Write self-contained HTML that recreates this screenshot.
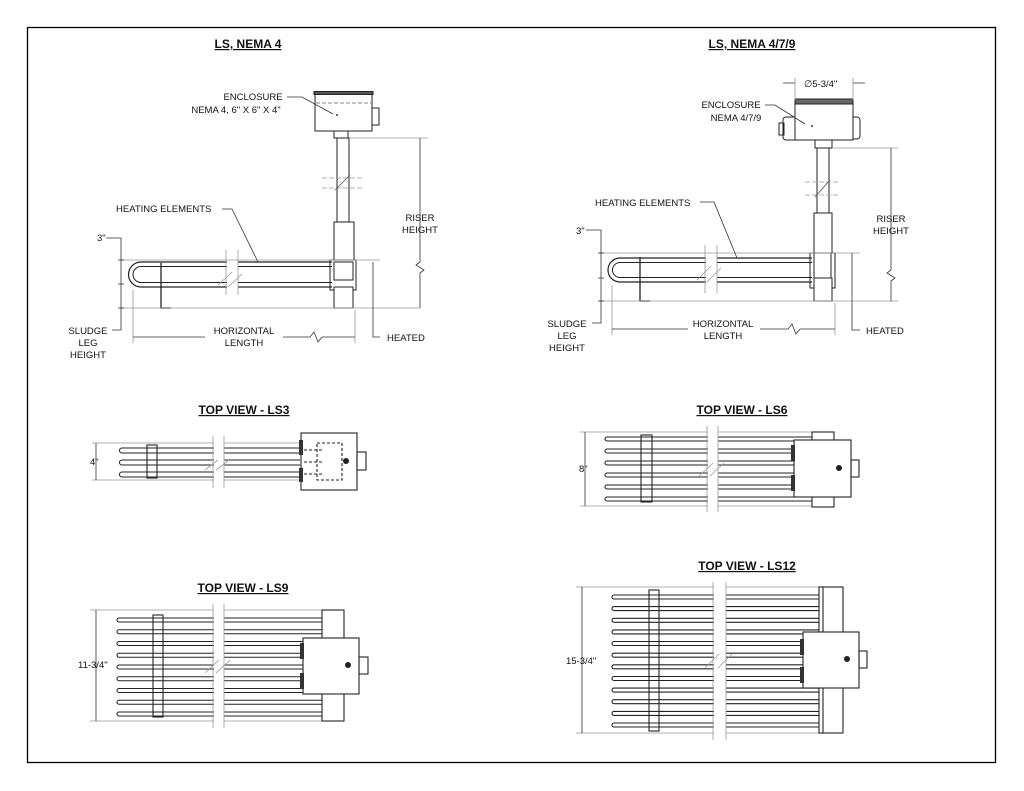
<!DOCTYPE html>
<html><head><meta charset="utf-8"><style>
html,body{margin:0;padding:0;background:#fff}
svg{display:block}
text{font-family:"Liberation Sans",Arial,sans-serif;font-size:9.5px;fill:#111}
.t{font-size:12px;font-weight:bold;text-anchor:middle;text-decoration:underline}
.m{text-anchor:middle}
</style></head><body>
<svg width="1024" height="791" viewBox="0 0 1024 791" xmlns="http://www.w3.org/2000/svg">
<rect x="27.5" y="27.5" width="968" height="735" fill="none" stroke="#000" stroke-width="1.3"/>

<!-- ============ LEFT SIDE VIEW ============ -->
<text class="t" x="248" y="48">LS, NEMA 4</text>
<g fill="none" stroke="#222" stroke-width="1">
<!-- enclosure -->
<rect x="315" y="93" width="57" height="38" fill="#fff"/>
<rect x="314" y="91.5" width="59" height="3" fill="#555"/>
<line x1="316" y1="103" x2="371" y2="103" stroke="#888" stroke-dasharray="4,2"/>
<rect x="372" y="108" width="7" height="17"/>
<rect x="334" y="131" width="14" height="7"/>
<rect x="337" y="138" width="12" height="84"/>
<rect x="334" y="222" width="20" height="40" fill="#fff"/>
<rect x="330" y="260" width="26" height="30" fill="#fff"/>
<rect x="334" y="262" width="19" height="18" fill="#fff"/>
<rect x="334" y="287" width="19" height="21" fill="#fff"/>
<!-- tubes -->
<path d="M332 262 H141 A7.5 7.5 0 0 0 141 287 H332" stroke-width="1.2"/>
<path d="M332 266.5 H141 A3 3 0 0 0 141 282.5 H332"/>
<path d="M161 263 V308 H171" stroke-width="1.3"/>
</g>
<rect x="227" y="250" width="11" height="45" fill="#fff"/>
<g stroke="#999" stroke-width="0.8" fill="none">
<line x1="226" y1="250" x2="226" y2="295"/><line x1="238" y1="250" x2="238" y2="295"/>
<line x1="218" y1="285" x2="232" y2="272"/><line x1="228" y1="287" x2="242" y2="274"/>
<line x1="322" y1="178" x2="362" y2="178" stroke-dasharray="5,2"/><line x1="322" y1="188" x2="362" y2="188" stroke-dasharray="5,2"/>
<line x1="335" y1="190" x2="350" y2="175" stroke="#555"/>
<line x1="120" y1="260" x2="380" y2="260"/><line x1="120" y1="308" x2="420" y2="308"/>
<line x1="350" y1="138" x2="428" y2="138"/>
<line x1="133" y1="290" x2="133" y2="343"/><line x1="355" y1="310" x2="355" y2="343"/>
</g>
<g stroke="#333" stroke-width="0.8" fill="none">
<path d="M106 238 H121 V330 H112"/>
<line x1="118" y1="260" x2="124" y2="260"/><line x1="118" y1="284" x2="124" y2="284"/><line x1="118" y1="308" x2="124" y2="308"/>
<path d="M420 138 V262 L416 265 L424 270 L420 273 V308"/>
<path d="M373 262 V337 H380"/>
<path d="M133 337 H205 M283 337 H310 L314 332 L318 342 L322 337 H355"/>
<path d="M222 209 H232 L258 262"/>
<path d="M287 97 H302 L333 114"/>
</g>
<circle cx="337" cy="115" r="1" fill="#333"/>
<text class="m" x="253" y="100">ENCLOSURE</text>
<text class="m" x="236" y="113">NEMA 4, 6" X 6" X 4"</text>
<text x="116" y="212">HEATING ELEMENTS</text>
<text x="97" y="241">3"</text>
<text class="m" x="420" y="221">RISER</text><text class="m" x="420" y="233">HEIGHT</text>
<text class="m" x="244" y="334">HORIZONTAL</text><text class="m" x="244" y="346">LENGTH</text>
<text class="m" x="88" y="334">SLUDGE</text><text class="m" x="88" y="346">LEG</text><text class="m" x="88" y="358">HEIGHT</text>
<text x="387" y="341">HEATED</text>

<!-- ============ RIGHT SIDE VIEW ============ -->
<text class="t" x="752" y="48">LS, NEMA 4/7/9</text>
<g fill="none" stroke="#222" stroke-width="1">
<rect x="783" y="117" width="14" height="23" rx="3" fill="#fff"/>
<rect x="779" y="123" width="5" height="12"/>
<rect x="851" y="117" width="9" height="22" rx="3" fill="#fff"/>
<rect x="795" y="102" width="58" height="38" fill="#fff"/>
<rect x="795" y="99" width="58" height="5" fill="#666"/>
<rect x="815" y="140" width="17" height="8"/>
<rect x="817" y="148" width="12" height="65"/>
<rect x="814" y="213" width="18" height="40" fill="#fff"/>
<rect x="810" y="253" width="25" height="35" fill="#fff"/>
<rect x="814" y="253" width="17" height="25" fill="#fff"/>
<rect x="814" y="278" width="18" height="23" fill="#fff"/>
<path d="M812 258 H620 A7.5 7.5 0 0 0 620 282 H812" stroke-width="1.2"/>
<path d="M812 262.5 H620 A3 3 0 0 0 620 277.5 H812"/>
<path d="M640 257 V301 H650" stroke-width="1.3"/>
</g>
<rect x="706" y="245" width="11" height="48" fill="#fff"/>
<g stroke="#999" stroke-width="0.8" fill="none">
<line x1="705" y1="245" x2="705" y2="293"/><line x1="717" y1="245" x2="717" y2="293"/>
<line x1="697" y1="280" x2="711" y2="266"/><line x1="707" y1="282" x2="721" y2="268"/>
<line x1="805" y1="182" x2="840" y2="182" stroke-dasharray="5,2"/><line x1="805" y1="195" x2="840" y2="195" stroke-dasharray="5,2"/>
<line x1="815" y1="197" x2="830" y2="180" stroke="#555"/>
<line x1="598" y1="253" x2="860" y2="253"/><line x1="598" y1="301" x2="898" y2="301"/>
<line x1="832" y1="148" x2="898" y2="148"/>
<line x1="612" y1="285" x2="612" y2="335"/><line x1="835" y1="303" x2="835" y2="335"/>
<line x1="795" y1="78" x2="795" y2="100"/><line x1="853" y1="78" x2="853" y2="100"/>
</g>
<g stroke="#333" stroke-width="0.8" fill="none">
<path d="M586 230 H601 V323 H592"/>
<line x1="598" y1="253" x2="604" y2="253"/><line x1="598" y1="278" x2="604" y2="278"/><line x1="598" y1="301" x2="604" y2="301"/>
<path d="M891 148 V270 L887 273 L895 278 L891 281 V301"/>
<path d="M852 253 V330 H860"/>
<path d="M612 329 H688 M760 329 H788 L792 324 L796 334 L800 329 H835"/>
<path d="M700 202 H714 L737 258"/>
<path d="M765 105 H775 L805 124"/>
<path d="M783 83 H795 M853 83 H865"/>
</g>
<circle cx="812" cy="126" r="1" fill="#333"/>
<text class="m" x="731" y="108">ENCLOSURE</text>
<text class="m" x="736" y="121">NEMA 4/7/9</text>
<text x="595" y="206">HEATING ELEMENTS</text>
<text x="576" y="234">3"</text>
<text class="m" x="891" y="222">RISER</text><text class="m" x="891" y="234">HEIGHT</text>
<text class="m" x="723" y="327">HORIZONTAL</text><text class="m" x="723" y="339">LENGTH</text>
<text class="m" x="567" y="327">SLUDGE</text><text class="m" x="567" y="339">LEG</text><text class="m" x="567" y="351">HEIGHT</text>
<text x="866" y="334">HEATED</text>
<text x="804" y="87">∅5-3/4"</text>

<!-- ============ TOP VIEW LS3 ============ -->
<text class="t" x="244" y="414">TOP VIEW - LS3</text>
<g stroke="#999" stroke-width="0.8" fill="none">
<line x1="92" y1="443" x2="300" y2="443"/><line x1="92" y1="480" x2="300" y2="480"/>
</g>
<g fill="none" stroke="#222" stroke-width="1.1">
<path d="M300 448 H122 A2.5 2.5 0 0 0 122 453 H300"/>
<path d="M300 460 H122 A2.5 2.5 0 0 0 122 465 H300"/>
<path d="M300 472 H122 A2.5 2.5 0 0 0 122 477 H300"/>
<rect x="147" y="445" width="10" height="33" fill="none"/>
<rect x="301" y="433" width="56" height="57" fill="#fff"/>
<rect x="317" y="443" width="25" height="37" stroke-dasharray="3,2"/>
<rect x="357" y="452" width="9" height="18"/>
</g>
<g stroke="#222" stroke-dasharray="3,2"><line x1="304" y1="450" x2="322" y2="450"/><line x1="304" y1="462" x2="322" y2="462"/><line x1="304" y1="474" x2="322" y2="474"/></g>
<rect x="299" y="440" width="4" height="15" fill="#333"/><rect x="299" y="468" width="4" height="14" fill="#333"/>
<circle cx="346" cy="461" r="3" fill="#222"/>
<rect x="214" y="436" width="10" height="50" fill="#fff"/>
<g stroke="#999" stroke-width="0.8"><line x1="213" y1="436" x2="213" y2="488"/><line x1="224" y1="436" x2="224" y2="488"/>
<line x1="205" y1="470" x2="218" y2="460"/><line x1="216" y1="470" x2="229" y2="460"/></g>
<path d="M96 443 V480" stroke="#333" stroke-width="0.8"/>
<text x="90" y="465">4"</text>

<!-- ============ TOP VIEW LS6 ============ -->
<text class="t" x="742" y="414">TOP VIEW - LS6</text>
<g stroke="#999" stroke-width="0.8" fill="none">
<line x1="580" y1="432" x2="812" y2="432"/><line x1="580" y1="506" x2="812" y2="506"/>
</g>
<g fill="none" stroke="#222" stroke-width="1.1">
<path d="M812 437 H607 A2 2 0 0 0 607 441 H812"/>
<path d="M794 449 H607 A2 2 0 0 0 607 453 H794"/>
<path d="M794 461 H607 A2 2 0 0 0 607 465 H794"/>
<path d="M794 473 H607 A2 2 0 0 0 607 477 H794"/>
<path d="M794 485 H607 A2 2 0 0 0 607 489 H794"/>
<path d="M812 497 H607 A2 2 0 0 0 607 501 H812"/>
<rect x="641" y="435" width="11" height="67"/>
<rect x="812" y="432" width="22" height="75" fill="#fff"/>
<rect x="794" y="440" width="57" height="57" fill="#fff"/>
<rect x="851" y="460" width="8" height="17"/>
</g>
<rect x="791" y="445" width="4" height="16" fill="#333"/><rect x="791" y="475" width="4" height="16" fill="#333"/>
<circle cx="839" cy="468" r="3" fill="#222"/>
<rect x="708" y="426" width="10" height="86" fill="#fff"/>
<g stroke="#999" stroke-width="0.8"><line x1="707" y1="426" x2="707" y2="512"/><line x1="718" y1="426" x2="718" y2="512"/>
<line x1="699" y1="476" x2="713" y2="463"/><line x1="710" y1="476" x2="724" y2="463"/></g>
<path d="M585 432 V506" stroke="#333" stroke-width="0.8"/>
<text x="579" y="472">8"</text>

<!-- ============ TOP VIEW LS9 ============ -->
<text class="t" x="243" y="592">TOP VIEW - LS9</text>
<g stroke="#999" stroke-width="0.8" fill="none">
<line x1="90" y1="610" x2="322" y2="610"/><line x1="90" y1="721" x2="322" y2="721"/>
</g>
<g fill="none" stroke="#222" stroke-width="1.1">
<path d="M322 618 H119 A2 2 0 0 0 119 622 H322"/>
<path d="M322 629.75 H119 A2 2 0 0 0 119 633.75 H322"/>
<path d="M303 641.5 H119 A2 2 0 0 0 119 645.5 H303"/>
<path d="M303 653.25 H119 A2 2 0 0 0 119 657.25 H303"/>
<path d="M303 665 H119 A2 2 0 0 0 119 669 H303"/>
<path d="M303 676.75 H119 A2 2 0 0 0 119 680.75 H303"/>
<path d="M303 688.5 H119 A2 2 0 0 0 119 692.5 H303"/>
<path d="M322 700.25 H119 A2 2 0 0 0 119 704.25 H322"/>
<path d="M322 712 H119 A2 2 0 0 0 119 716 H322"/>
<rect x="153" y="615" width="10" height="102"/>
<rect x="322" y="610" width="22" height="111" fill="#fff"/>
<rect x="303" y="638" width="56" height="56" fill="#fff"/>
<rect x="359" y="657" width="9" height="17"/>
</g>
<rect x="300" y="643" width="4" height="16" fill="#333"/><rect x="300" y="673" width="4" height="16" fill="#333"/>
<circle cx="348" cy="665" r="3" fill="#222"/>
<rect x="214" y="604" width="10" height="124" fill="#fff"/>
<g stroke="#999" stroke-width="0.8"><line x1="213" y1="604" x2="213" y2="728"/><line x1="224" y1="604" x2="224" y2="728"/>
<line x1="205" y1="673" x2="219" y2="660"/><line x1="216" y1="673" x2="230" y2="660"/></g>
<path d="M96 610 V721" stroke="#333" stroke-width="0.8"/>
<text x="78" y="668">11-3/4"</text>

<!-- ============ TOP VIEW LS12 ============ -->
<text class="t" x="747" y="570">TOP VIEW - LS12</text>
<g stroke="#999" stroke-width="0.8" fill="none">
<line x1="576" y1="587" x2="819" y2="587"/><line x1="576" y1="733" x2="819" y2="733"/>
</g>
<g fill="none" stroke="#222" stroke-width="1.1">
<path d="M819 595 H614 A2 2 0 0 0 614 599 H819"/>
<path d="M819 606.6 H614 A2 2 0 0 0 614 610.6 H819"/>
<path d="M819 618.3 H614 A2 2 0 0 0 614 622.3 H819"/>
<path d="M819 629.9 H614 A2 2 0 0 0 614 633.9 H819"/>
<path d="M803 641.5 H614 A2 2 0 0 0 614 645.5 H803"/>
<path d="M803 653.2 H614 A2 2 0 0 0 614 657.2 H803"/>
<path d="M803 664.8 H614 A2 2 0 0 0 614 668.8 H803"/>
<path d="M803 676.5 H614 A2 2 0 0 0 614 680.5 H803"/>
<path d="M819 688.1 H614 A2 2 0 0 0 614 692.1 H819"/>
<path d="M819 699.7 H614 A2 2 0 0 0 614 703.7 H819"/>
<path d="M819 711.4 H614 A2 2 0 0 0 614 715.4 H819"/>
<path d="M819 723 H614 A2 2 0 0 0 614 727 H819"/>
<rect x="649" y="590" width="10" height="141"/>
<rect x="819" y="587" width="24" height="146" fill="#fff"/>
<line x1="823" y1="587" x2="823" y2="733"/>
<rect x="803" y="632" width="56" height="56" fill="#fff"/>
<rect x="859" y="651" width="8" height="17"/>
</g>
<rect x="800" y="639" width="4" height="16" fill="#333"/><rect x="800" y="667" width="4" height="16" fill="#333"/>
<circle cx="847" cy="659" r="3" fill="#222"/>
<rect x="714" y="582" width="12" height="158" fill="#fff"/>
<g stroke="#999" stroke-width="0.8"><line x1="713" y1="582" x2="713" y2="740"/><line x1="726" y1="582" x2="726" y2="740"/>
<line x1="705" y1="668" x2="719" y2="654"/><line x1="718" y1="668" x2="732" y2="654"/></g>
<path d="M582 587 V733" stroke="#333" stroke-width="0.8"/>
<text x="566" y="664">15-3/4"</text>
</svg>
</body></html>
